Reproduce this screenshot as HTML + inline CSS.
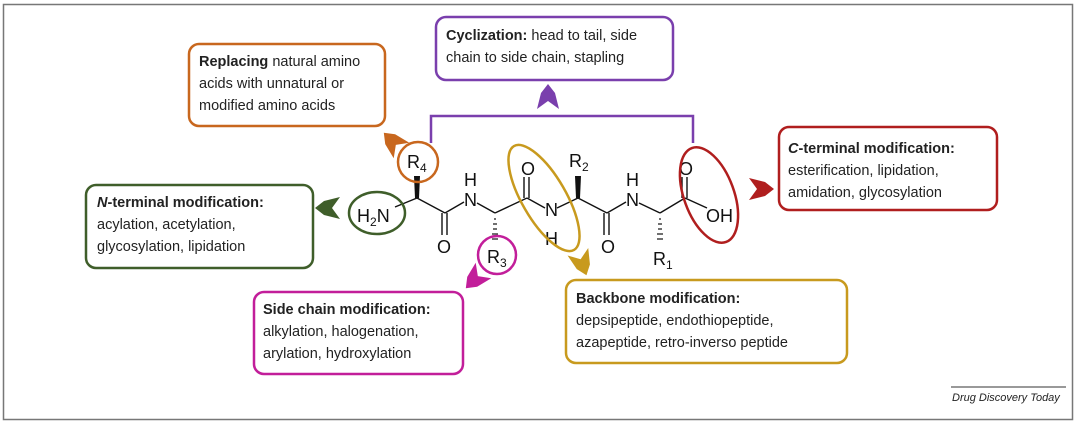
<!DOCTYPE html>
<html><head><meta charset="utf-8"><style>
body{margin:0;background:#fff}
svg{display:block}
.t{font-family:"Liberation Sans",sans-serif;font-size:14.5px;fill:#222}
.b{font-weight:bold}
.m{font-family:"Liberation Sans",sans-serif;font-size:18px;fill:#111}
.s{font-size:12px}
</style></head><body>
<svg width="1080" height="423" viewBox="0 0 1080 423" xmlns="http://www.w3.org/2000/svg">
<defs><path id="chev" d="M -12,-11 L 4,-7 L 13,0 L 4,7 L -12,11 L -4,0 Z"/></defs>
<rect x="3.5" y="4.5" width="1069" height="415" fill="#fff" stroke="#777" stroke-width="1.5"/>
<!-- boxes -->
<rect x="189" y="44" width="196" height="82" rx="10" fill="#fff" stroke="#c8671e" stroke-width="2.5"/>
<text class="t" x="199" y="66"><tspan class="b">Replacing</tspan> natural amino</text>
<text class="t" x="199" y="88">acids with unnatural or</text>
<text class="t" x="199" y="110">modified amino acids</text>

<rect x="436" y="17" width="237" height="63" rx="10" fill="#fff" stroke="#7a3fad" stroke-width="2.5"/>
<text class="t" x="446" y="40"><tspan class="b">Cyclization:</tspan> head to tail, side</text>
<text class="t" x="446" y="62">chain to side chain, stapling</text>

<rect x="86" y="185" width="227" height="83" rx="10" fill="#fff" stroke="#3f5e2a" stroke-width="2.5"/>
<text class="t" x="97" y="207"><tspan class="b" font-style="italic">N</tspan><tspan class="b">-terminal modification:</tspan></text>
<text class="t" x="97" y="229">acylation, acetylation,</text>
<text class="t" x="97" y="251">glycosylation, lipidation</text>

<rect x="254" y="292" width="209" height="82" rx="10" fill="#fff" stroke="#c21e9a" stroke-width="2.5"/>
<text class="t" x="263" y="314"><tspan class="b">Side chain modification:</tspan></text>
<text class="t" x="263" y="336">alkylation, halogenation,</text>
<text class="t" x="263" y="358">arylation, hydroxylation</text>

<rect x="779" y="127" width="218" height="83" rx="10" fill="#fff" stroke="#b01e1e" stroke-width="2.5"/>
<text class="t" x="788" y="153"><tspan class="b" font-style="italic">C</tspan><tspan class="b">-terminal modification:</tspan></text>
<text class="t" x="788" y="175">esterification, lipidation,</text>
<text class="t" x="788" y="197">amidation, glycosylation</text>

<rect x="566" y="280" width="281" height="83" rx="10" fill="#fff" stroke="#c89a1e" stroke-width="2.5"/>
<text class="t" x="576" y="303"><tspan class="b">Backbone modification:</tspan></text>
<text class="t" x="576" y="325">depsipeptide, endothiopeptide,</text>
<text class="t" x="576" y="347">azapeptide, retro-inverso peptide</text>

<!-- bracket -->
<polyline points="431,143 431,116 693,116 693,143" fill="none" stroke="#7a3fad" stroke-width="2.5"/>
<!-- chevrons -->
<use href="#chev" transform="translate(548,97) rotate(-90)" fill="#7a3fad"/>
<use href="#chev" transform="translate(328,208) rotate(180)" fill="#3f5e2a"/>
<use href="#chev" transform="translate(761,189)" fill="#b01e1e"/>
<use href="#chev" transform="translate(393,142) rotate(-135)" fill="#c8671e"/>
<use href="#chev" transform="translate(475,279) rotate(135)" fill="#c21e9a"/>
<use href="#chev" transform="translate(582,263) rotate(70)" fill="#c89a1e"/>

<!-- molecule bonds -->
<g stroke="#111" stroke-width="1.4" fill="none">
<line x1="395" y1="207" x2="417" y2="198"/>
<line x1="417" y1="198" x2="445" y2="213"/>
<line x1="442" y1="213" x2="442" y2="235"/><line x1="447" y1="213" x2="447" y2="235"/>
<line x1="445" y1="213" x2="464" y2="202"/>
<line x1="477" y1="203" x2="495" y2="213"/>
<line x1="495" y1="213" x2="527" y2="198"/>
<line x1="524" y1="198" x2="524" y2="177"/><line x1="529" y1="198" x2="529" y2="177"/>
<line x1="527" y1="198" x2="545" y2="208"/>
<line x1="557" y1="208" x2="578" y2="198"/>
<line x1="578" y1="198" x2="607" y2="213"/>
<line x1="604" y1="213" x2="604" y2="235"/><line x1="609" y1="213" x2="609" y2="235"/>
<line x1="607" y1="213" x2="626" y2="202"/>
<line x1="639" y1="203" x2="660" y2="213"/>
<line x1="660" y1="213" x2="685" y2="198"/>
<line x1="682" y1="198" x2="682" y2="177"/><line x1="687" y1="198" x2="687" y2="177"/>
<line x1="685" y1="198" x2="707" y2="208"/>
</g>
<polygon points="415,198 419,198 420,176 414,176" fill="#111"/>
<polygon points="576,198 580,198 581,176 575,176" fill="#111"/>
<g stroke="#111" stroke-width="1.2">
<line x1="494" y1="219" x2="496" y2="219"/><line x1="493" y1="224" x2="497" y2="224"/><line x1="493" y1="229" x2="497" y2="229"/><line x1="492" y1="234" x2="498" y2="234"/><line x1="492" y1="239" x2="498" y2="239"/>
<line x1="659" y1="219" x2="661" y2="219"/><line x1="658" y1="224" x2="662" y2="224"/><line x1="658" y1="229" x2="662" y2="229"/><line x1="657" y1="234" x2="663" y2="234"/><line x1="657" y1="239" x2="663" y2="239"/>
</g>
<text class="m" x="357" y="222">H<tspan class="s" dy="4">2</tspan><tspan dy="-4">N</tspan></text>
<text class="m" x="437" y="253">O</text>
<text class="m" x="464" y="206">N</text><text class="m" x="464" y="186">H</text>
<text class="m" x="487" y="263">R<tspan class="s" dy="4">3</tspan></text>
<text class="m" x="407" y="168">R<tspan class="s" dy="4">4</tspan></text>
<text class="m" x="521" y="175">O</text>
<text class="m" x="545" y="216">N</text><text class="m" x="545" y="245">H</text>
<text class="m" x="569" y="167">R<tspan class="s" dy="4">2</tspan></text>
<text class="m" x="601" y="253">O</text>
<text class="m" x="626" y="206">N</text><text class="m" x="626" y="186">H</text>
<text class="m" x="653" y="265">R<tspan class="s" dy="4">1</tspan></text>
<text class="m" x="679" y="175">O</text>
<text class="m" x="706" y="222">OH</text>

<!-- highlight ellipses -->
<ellipse cx="377" cy="213" rx="28" ry="21" fill="none" stroke="#3f5e2a" stroke-width="2.5"/>
<circle cx="418" cy="162" r="20" fill="none" stroke="#c8671e" stroke-width="2.5"/>
<circle cx="497" cy="255" r="19" fill="none" stroke="#c21e9a" stroke-width="2.5"/>
<ellipse cx="544" cy="198" rx="22" ry="60" transform="rotate(-30 544 198)" fill="none" stroke="#c89a1e" stroke-width="2.5"/>
<ellipse cx="709" cy="195" rx="25" ry="50" transform="rotate(-20 709 195)" fill="none" stroke="#b01e1e" stroke-width="2.5"/>

<line x1="951" y1="387" x2="1066" y2="387" stroke="#333" stroke-width="1"/>
<text x="952" y="401" font-family="Liberation Sans,sans-serif" font-size="11" font-style="italic" fill="#222">Drug Discovery Today</text>
</svg>
</body></html>
